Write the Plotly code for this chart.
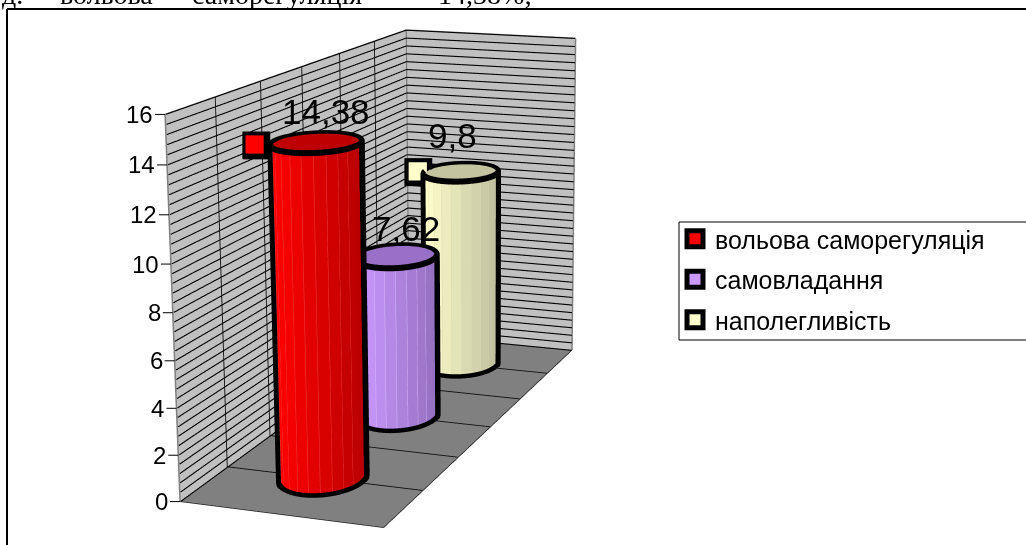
import numpy as np
import plotly.graph_objects as go

NAMES = ["вольова саморегуляція", "самовладання", "наполегливість"]
VALUES = [14.38, 7.62, 9.8]
LABELS = ["14,38", "7,62", "9,8"]
COLORS = ["#ff0000", "#cc99ff", "#ffffcc"]
TOPS = ["#bf0000", "#9970c8", "#c4c4a0"]
DARK = ["#b80000", "#9470c0", "#c0c0a0"]
FACET = ["#f04040", "#d8b8ff", "#d8d8b0"]
DEPTHS = [1/6, 1/2, 5/6]
Z_MINOR = [round(i*0.4, 1) for i in range(41)]
Z_MAJOR = [0, 2, 4, 6, 8, 10, 12, 14, 16]
DEPTH_GRID = [1/6, 2/6, 3/6, 4/6, 5/6]

# camera of the scene
EYE = np.array([2.061, -5.228, 1.371]); YAW, PITCH, ROLL = -0.317, -0.251, 0.004
AX, AY, AZ = 0.558, 1.625, 1.0
FIG_W, FIG_H, TOP_OFFSET = 1026, 1700, 578
F = np.array([np.cos(PITCH)*np.sin(YAW), np.cos(PITCH)*np.cos(YAW), np.sin(PITCH)])
R0 = np.cross(F, [0, 0, 1]); R0 /= np.linalg.norm(R0)
U0 = np.cross(R0, F)
RIGHT = np.cos(ROLL)*R0 + np.sin(ROLL)*U0
UP = -np.sin(ROLL)*R0 + np.cos(ROLL)*U0
CENTER = EYE + F*np.linalg.norm(EYE)

RU, RV = 0.187, 0.08
N = 22
KEY_U = [0.2, 0.22, 0.25]
KEY_DZ = [-0.25, 0, -0.1]
FLAT = dict(ambient=1, diffuse=0, specular=0, roughness=1, fresnel=0)
NUDGE = 0.002

def px(xp, yp):
    return xp/FIG_W, 1-(yp+TOP_OFFSET)/FIG_H

def screen_x(u, v, z):
    W = np.c_[(u-.5)*AX, (v-.5)*AY, (z/16-.5)*AZ]-EYE
    return (W@RIGHT)/(W@F)

def segs(items):
    xs, ys, zs = [], [], []
    for a in items:
        xs += [a[0], a[3], None]; ys += [a[1], a[4], None]; zs += [a[2], a[5], None]
    return xs, ys, zs

fig = go.Figure()
# grid on the walls and floor
zl = [(NUDGE, NUDGE, z, NUDGE, 1-NUDGE, z) for z in Z_MINOR] + [(NUDGE, 1-NUDGE, z, 1, 1-NUDGE, z) for z in Z_MINOR]
xs, ys, zs = segs(zl)
fig.add_trace(go.Scatter3d(x=xs, y=ys, z=zs, mode="lines", line=dict(color="#000000", width=2.2), hoverinfo="skip", showlegend=False))
dl = [(NUDGE, d, 0, NUDGE, d, 16) for d in DEPTH_GRID] + [(NUDGE, d, 0.03, 1, d, 0.03) for d in DEPTH_GRID]
xs, ys, zs = segs(dl)
fig.add_trace(go.Scatter3d(x=xs, y=ys, z=zs, mode="lines", line=dict(color="#111111", width=1.8), hoverinfo="skip", showlegend=False))

cx = 0.5
toward_eye = -F*0.03/np.array([AX, AY, AZ/16])
for i, (name, val, col, top, dark, fc, v0) in enumerate(zip(NAMES, VALUES, COLORS, TOPS, DARK, FACET, DEPTHS)):
    th = np.linspace(0, 2*np.pi, N+1)
    tf = np.repeat(th, 2)[1:-1]
    u = cx+RU*np.cos(tf); v = v0+RV*np.sin(tf)
    sx = screen_x(u, v, np.full_like(u, val/2))
    t = (sx-sx.min())/(sx.max()-sx.min())
    t = np.repeat((t[::2]+t[1::2])/2, 2)
    fig.add_trace(go.Surface(
        x=np.c_[u, u], y=np.c_[v, v], z=np.c_[np.zeros_like(u), np.full_like(u, val)],
        surfacecolor=np.c_[t, t], cmin=0, cmax=1, colorscale=[[0, col], [1, dark]], showscale=False,
        lighting=FLAT, hoverinfo="skip", showlegend=False))
    r = np.array([0, 1.0])
    uu = cx+np.outer(r, RU*np.cos(th)); vv = v0+np.outer(r, RV*np.sin(th))
    fig.add_trace(go.Surface(x=uu, y=vv, z=np.full_like(uu, val), surfacecolor=np.zeros_like(uu), cmin=0, cmax=1,
        colorscale=[[0, top], [1, top]], showscale=False, lighting=FLAT, hoverinfo="skip", showlegend=False))
    # faint facet edges on the near half
    fx, fy, fz = [], [], []
    for a in th[np.sin(th) < -1e-6]:
        p, q = cx+1.004*RU*np.cos(a), v0+1.004*RV*np.sin(a)
        fx += [p, p, None]; fy += [q, q, None]; fz += [0, val, None]
    fig.add_trace(go.Scatter3d(x=fx, y=fy, z=fz, mode="lines", line=dict(color=fc, width=1), hoverinfo="skip", showlegend=False))
    # outline: top ring, two silhouette edges, near arc of the base
    k = 1.055
    dense = np.linspace(0, 2*np.pi, 241)
    ru = cx+k*RU*np.cos(dense); rv = v0+k*RV*np.sin(dense)
    s0 = screen_x(ru, rv, np.zeros_like(ru))
    ta, tb = dense[int(np.argmin(s0))], dense[int(np.argmax(s0))]
    if tb < ta:
        tb += 2*np.pi
    arc = np.linspace(ta, tb, 90)
    au = cx+k*RU*np.cos(arc); av = v0+k*RV*np.sin(arc)
    s1 = screen_x(ru, rv, np.full_like(ru, val))
    a1, b1 = int(np.argmin(s1)), int(np.argmax(s1))
    lx, ly, lz = list(ru), list(rv), [val]*len(ru)
    lx += [None, ru[a1]] + list(au) + [ru[b1], None]
    ly += [None, rv[a1]] + list(av) + [rv[b1], None]
    lz += [None, val] + [0.04]*len(au) + [val, None]
    fig.add_trace(go.Scatter3d(x=lx, y=ly, z=lz, mode="lines", line=dict(color="black", width=12),
                               hoverinfo="skip", showlegend=False))
    # key squares beside the value labels
    ku, kz = KEY_U[i], val+KEY_DZ[i]
    fig.add_trace(go.Scatter3d(x=[ku], y=[v0], z=[kz], mode="markers", showlegend=False, hoverinfo="skip",
        marker=dict(symbol="square", size=14.5, color="black")))
    fig.add_trace(go.Scatter3d(x=[ku+toward_eye[0]], y=[v0+toward_eye[1]], z=[kz+toward_eye[2]], mode="markers",
        showlegend=False, hoverinfo="skip", marker=dict(symbol="square", size=9.5, color=col)))
    # legend entry
    fig.add_trace(go.Scatter3d(x=[None], y=[None], z=[None], mode="markers", name=name, legendgroup=name, hoverinfo="skip",
        marker=dict(symbol="square", size=16, color=col, line=dict(color="black", width=5))))

# wall edges
xs, ys, zs = segs([(0, 0, 0, 0, 0, 16), (0, 0, 16, 0, 1, 16), (0, 1, 16, 0, 1, 0), (0, 1, 16, 1, 1, 16), (1, 1, 16, 1, 1, 0)])
fig.add_trace(go.Scatter3d(x=xs, y=ys, z=zs, mode="lines", line=dict(color="#808080", width=3), hoverinfo="skip", showlegend=False))
fig.add_trace(go.Scatter3d(x=[0, 1, 1], y=[0, 0, 1], z=[0, 0, 0], mode="lines", line=dict(color="#202020", width=1.5), hoverinfo="skip", showlegend=False))

SHIFTS = [(10, 31), (10, 28), (-8, 37)]
ann3d = [dict(x=cx, y=d, z=v, text=l, showarrow=False, font=dict(family="Liberation Sans", size=35, color="#000"),
              xshift=s[0], yshift=s[1]) for d, v, l, s in zip(DEPTHS, VALUES, LABELS, SHIFTS)]
ann3d += [dict(x=0, y=0, z=m, text=str(m), showarrow=True, arrowhead=0, arrowwidth=1, arrowcolor="#000", ax=-10, ay=0,
               standoff=0, xanchor="right", font=dict(family="Liberation Sans", size=24, color="#000")) for m in Z_MAJOR]

def ann(x, y, text, size=28):
    xp, yp = px(x, y)
    return dict(xref="paper", yref="paper", x=xp, y=yp, text=text, showarrow=False, xanchor="left", yanchor="bottom",
                font=dict(family="Liberation Serif", size=size, color="black"))
annots = [ann(0, 12, "д."), ann(58, 12, "вольова"), ann(190, 12, "саморегуляція"), ann(395, 12, "–"), ann(436, 12, "14,38%;")]

x0, y0 = px(7, 9); x1, y1 = px(1026, 9); _, y2 = px(0, 560)
bx0, by0 = px(679, 222); bx1, by1 = px(1040, 340)
shapes = [dict(type="line", xref="paper", yref="paper", x0=x0, x1=x0, y0=y0, y1=y2, line=dict(color="black", width=2)),
          dict(type="line", xref="paper", yref="paper", x0=x0, x1=x1, y0=y0, y1=y0, line=dict(color="black", width=2)),
          dict(type="rect", xref="paper", yref="paper", x0=bx0, x1=bx1, y0=by0, y1=by1, line=dict(color="black", width=1), fillcolor="white")]

lx, ly = px(675, 216)
noax = dict(visible=True, showgrid=False, showticklabels=False, ticks="", showline=False, zeroline=False,
            showspikes=False, title="", range=[0, 1])
fig.update_layout(
    width=FIG_W, height=FIG_H, margin=dict(l=0, r=0, t=0, b=0), paper_bgcolor="white",
    showlegend=True, annotations=annots, shapes=shapes,
    legend=dict(x=lx, y=ly, xanchor="left", yanchor="top", bgcolor="rgba(0,0,0,0)", borderwidth=0,
                font=dict(family="Liberation Sans", size=25, color="black"), traceorder="grouped", tracegroupgap=5,
                itemsizing="trace", itemclick=False, itemdoubleclick=False),
    scene=dict(
        domain=dict(x=[0, 1], y=[0, 1]), aspectmode="manual", aspectratio=dict(x=AX, y=AY, z=AZ),
        camera=dict(eye=dict(x=EYE[0], y=EYE[1], z=EYE[2]), center=dict(x=CENTER[0], y=CENTER[1], z=CENTER[2]),
                    up=dict(x=UP[0], y=UP[1], z=UP[2]), projection=dict(type="perspective")),
        xaxis={**noax, "showbackground": True, "backgroundcolor": "#c0c0c0"},
        yaxis={**noax, "showbackground": True, "backgroundcolor": "#c0c0c0"},
        zaxis=dict(range=[0, 16], tickvals=Z_MAJOR, showgrid=False, showticklabels=False,
                   showbackground=True, backgroundcolor="#808080", ticks="", showline=False, zeroline=False,
                   showspikes=False, title=""),
        annotations=ann3d),
)
post = ("document.documentElement.style.overflow='hidden';document.body.style.margin='0';document.body.style.overflow='hidden';"
        "document.getElementById('{plot_id}').style.marginTop='-%dpx';" % TOP_OFFSET)
fig.write_html("out.html", config=dict(displayModeBar=False), post_script=post)
